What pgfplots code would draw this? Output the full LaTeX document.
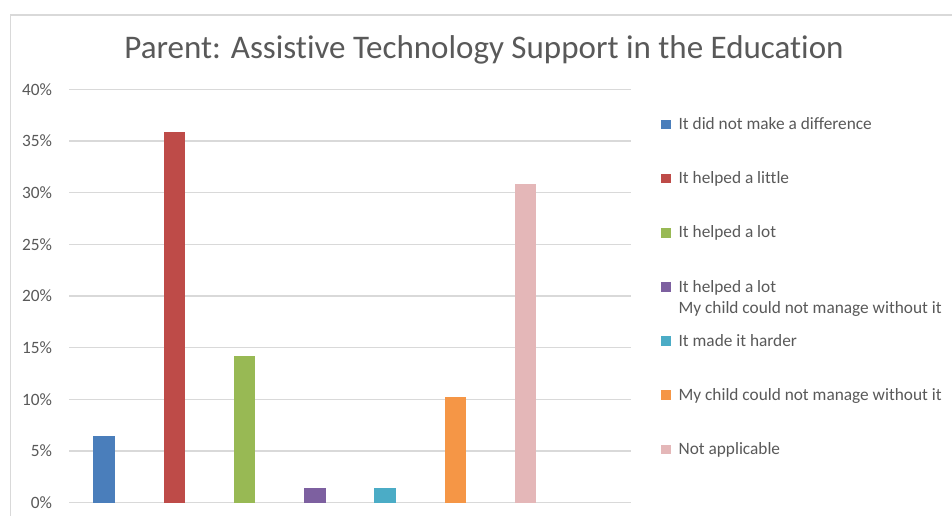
\documentclass[border=0pt]{standalone}
\usepackage{pgfplots}
\pgfplotsset{compat=1.18}
\usepackage{fontspec}
\setmainfont[Ligatures=NoCommon]{Carlito}
\definecolor{txt}{HTML}{595959}
\definecolor{gridc}{HTML}{D9D9D9}
\definecolor{c1}{HTML}{4A7EBB}
\definecolor{c2}{HTML}{BE4B48}
\definecolor{c3}{HTML}{98B954}
\definecolor{c4}{HTML}{7D60A0}
\definecolor{c5}{HTML}{4BACC6}
\definecolor{c6}{HTML}{F59646}
\definecolor{c7}{HTML}{E4B7B8}
\begin{document}
\begin{tikzpicture}[x=1pt,y=1pt]
\useasboundingbox (0,0) rectangle (952,-516);
\fill[white] (0,0) rectangle (952,-516);
\draw[gridc, line width=1.3pt] (10.7,-530) -- (10.7,-15) -- (970,-15);
\begin{axis}[
  at={(69pt,-502.7pt)}, anchor=south west,
  scale only axis, width=562pt, height=413.4pt,
  xmin=-0.5, xmax=7.5, ymin=0, ymax=40,
  xtick=\empty,
  ytick={0,5,10,15,20,25,30,35,40},
  yticklabels={0\%,5\%,10\%,15\%,20\%,25\%,30\%,35\%,40\%},
  yticklabel style={font=\fontsize{17.3}{20}\selectfont, text=txt, anchor=east, inner sep=0pt, xshift=-16.7pt},
  axis line style={draw=none},
  major tick length=0pt,
  ymajorgrids,
  grid style={gridc, line width=1.2pt},
  clip=false,
  title={Parent: Assistive Technology Support in the Education},
  title style={at={(rel axis cs:0.73843,1.0607)}, anchor=base, yshift=0pt, font=\fontsize{33}{38}\selectfont, text=txt, inner sep=0pt},
  legend style={at={(rel axis cs:1.05338,0.93662)}, anchor=north west, draw=none, fill=none, inner sep=0pt, outer sep=0pt, row sep=36.67pt, column sep=6pt, font=\fontsize{17.3}{21}\selectfont, text=txt, cells={anchor=base west, inner sep=0pt, text height=12pt, text depth=4pt}},
  legend image code/.code={\fill[#1] (0pt,0.3pt) rectangle (9.6pt,9.9pt);},
]
\addplot[ybar, bar width=21.4pt, fill=c1, draw=none] coordinates {(0,6.48)};
\addlegendentry{It did not make a difference}
\addplot[ybar, bar width=21.4pt, fill=c2, draw=none] coordinates {(1,35.9)};
\addlegendentry{It helped a little}
\addplot[ybar, bar width=21.4pt, fill=c3, draw=none] coordinates {(2,14.2)};
\addlegendentry{It helped a lot}
\addplot[ybar, bar width=21.4pt, fill=c4, draw=none] coordinates {(3,1.42)};
\addlegendentry{\begin{tabular}[t]{@{}l@{}}It helped a lot\\My child could not manage without it\end{tabular}}
\addplot[ybar, bar width=21.4pt, fill=c5, draw=none] coordinates {(4,1.42)};
\addlegendentry{It made it harder}
\addplot[ybar, bar width=21.4pt, fill=c6, draw=none] coordinates {(5,10.26)};
\addlegendentry{My child could not manage without it}
\addplot[ybar, bar width=21.4pt, fill=c7, draw=none] coordinates {(6,30.8)};
\addlegendentry{Not applicable}
\end{axis}
\end{tikzpicture}
\end{document}
